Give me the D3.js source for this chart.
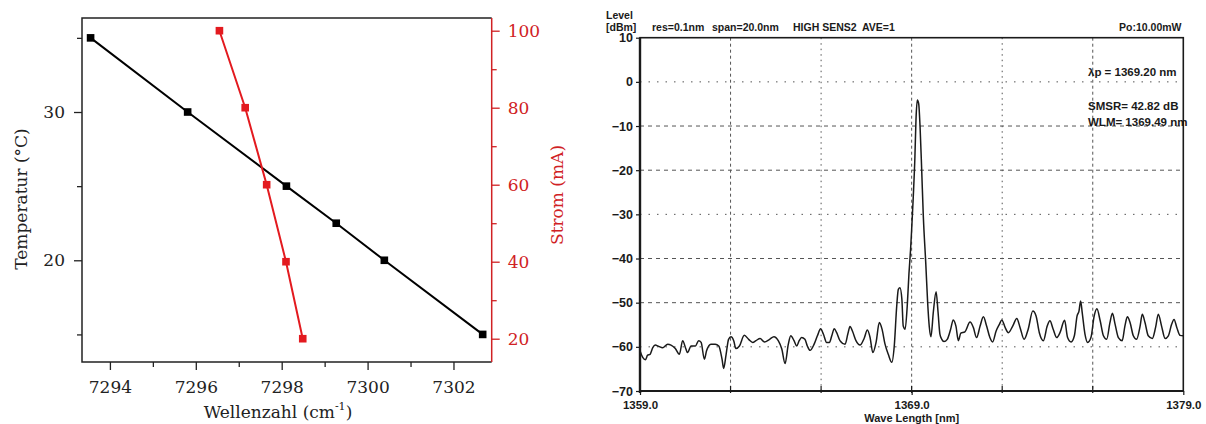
<!DOCTYPE html>
<html>
<head>
<meta charset="utf-8">
<script src="https://cdn.jsdelivr.net/npm/d3@7"></script>
<style>
  html, body { margin: 0; padding: 0; background: #ffffff; }
  svg { display: block; }
  text { white-space: pre; }
</style>
</head>
<body>
<script>
// ---------------- Left panel data ----------------
const wavenumberT = [7293.55, 7295.81, 7298.11, 7299.27, 7300.39, 7302.68];
const temperature = [35, 30, 25, 22.5, 20, 15];
const wavenumberI = [7296.55, 7297.15, 7297.65, 7298.10, 7298.49];
const current = [100, 80, 60, 40, 20];
const xTicksMajor = [7294, 7296, 7298, 7300, 7302];
const xTicksMinor = [7295, 7297, 7299, 7301];
const tTicksMajor = [20, 30];
const tTicksMinor = [15, 25, 35];
const iTicksMajor = [20, 40, 60, 80, 100];
const iTicksMinor = [30, 50, 70, 90];

// ---------------- Right panel data ----------------
const wavelength = [
  1359.00, 1359.10, 1359.20, 1359.28, 1359.37, 1359.47, 1359.56, 1359.69, 1359.83, 1360.02,
  1360.14, 1360.30, 1360.45, 1360.57, 1360.69, 1360.75, 1360.88, 1361.04, 1361.16, 1361.25,
  1361.37, 1361.45, 1361.61, 1361.77, 1361.90, 1362.02, 1362.08, 1362.17, 1362.26, 1362.35,
  1362.45, 1362.53, 1362.66, 1362.84, 1363.00, 1363.15, 1363.27, 1363.42, 1363.58, 1363.77,
  1363.93, 1364.09, 1364.22, 1364.34, 1364.46, 1364.55, 1364.67, 1364.77, 1364.86, 1364.95,
  1365.07, 1365.16, 1365.26, 1365.41, 1365.53, 1365.65, 1365.75, 1365.87, 1365.97, 1366.06,
  1366.15, 1366.24, 1366.36, 1366.55, 1366.65, 1366.73, 1366.83, 1366.95, 1367.10, 1367.25,
  1367.37, 1367.47, 1367.57, 1367.69, 1367.81, 1367.91, 1368.02, 1368.14, 1368.27, 1368.36,
  1368.45, 1368.51, 1368.57, 1368.64, 1368.69, 1368.76, 1368.84, 1368.90, 1368.96, 1369.00,
  1369.06, 1369.12, 1369.16, 1369.21, 1369.26, 1369.31, 1369.37, 1369.43, 1369.52, 1369.59,
  1369.65, 1369.71, 1369.80, 1369.90, 1369.97, 1370.04, 1370.11, 1370.19, 1370.31, 1370.44,
  1370.53, 1370.63, 1370.72, 1370.81, 1370.96, 1371.15, 1371.27, 1371.39, 1371.52, 1371.64,
  1371.76, 1371.88, 1371.98, 1372.11, 1372.23, 1372.32, 1372.44, 1372.56, 1372.72, 1372.87,
  1372.99, 1373.14, 1373.29, 1373.46, 1373.58, 1373.70, 1373.85, 1373.99, 1374.09, 1374.21,
  1374.34, 1374.46, 1374.63, 1374.74, 1374.87, 1374.99, 1375.09, 1375.16, 1375.22, 1375.28,
  1375.38, 1375.48, 1375.60, 1375.72, 1375.82, 1375.94, 1376.06, 1376.18, 1376.30, 1376.39,
  1376.49, 1376.61, 1376.75, 1376.85, 1376.94, 1377.04, 1377.16, 1377.28, 1377.41, 1377.49,
  1377.59, 1377.71, 1377.86, 1377.98, 1378.08, 1378.20, 1378.33, 1378.45, 1378.57, 1378.66,
  1378.76, 1378.88, 1379.00
];
const level = [
  -60.9, -62.4, -62.9, -61.9, -61.7, -60.2, -59.6, -59.9, -60.2, -59.4,
  -59.6, -60.4, -61.7, -58.6, -60.5, -61.3, -59.8, -59.8, -58.6, -59.0,
  -62.8, -60.9, -59.4, -59.4, -59.8, -62.8, -64.9, -61.7, -58.3, -57.7,
  -58.6, -60.4, -59.8, -57.4, -58.3, -59.0, -58.6, -58.1, -58.9, -58.3,
  -57.7, -58.6, -60.5, -63.8, -59.4, -57.5, -58.6, -59.8, -58.6, -57.9,
  -58.3, -59.8, -60.8, -59.4, -57.5, -55.9, -57.1, -59.0, -59.0, -57.5,
  -55.9, -56.8, -58.6, -59.4, -57.1, -55.4, -56.6, -58.6, -59.6, -58.1,
  -56.2, -57.9, -61.3, -59.0, -54.5, -56.0, -59.4, -61.7, -63.5, -59.8,
  -50.8, -47.0, -46.6, -49.2, -55.3, -56.0, -50.5, -43.5, -38.0, -33.5,
  -26.0, -17.0, -8.5, -4.1, -5.0, -10.2, -20.0, -30.5, -41.1, -50.1,
  -55.5, -57.7, -52.0, -47.5, -52.0, -57.1, -58.3, -58.8, -58.3, -55.9,
  -53.9, -55.3, -58.6, -56.9, -56.6, -54.4, -55.6, -57.9, -55.3, -53.2,
  -55.3, -57.9, -58.9, -56.4, -54.9, -53.9, -55.6, -56.8, -55.3, -53.6,
  -55.6, -58.3, -56.0, -51.9, -53.0, -56.8, -58.6, -55.3, -54.1, -56.0,
  -57.9, -56.8, -54.0, -57.9, -58.9, -57.5, -53.0, -51.9, -49.6, -52.3,
  -57.1, -59.0, -57.9, -53.0, -51.4, -54.1, -57.5, -58.3, -54.5, -52.4,
  -54.9, -57.9, -58.6, -55.3, -53.2, -54.5, -57.5, -58.3, -55.3, -52.6,
  -54.5, -57.5, -58.1, -55.6, -52.6, -55.3, -58.1, -57.5, -54.9, -53.8,
  -55.6, -57.4, -57.5
];
const levelTicks = [10, 0, -10, -20, -30, -40, -50, -60, -70];
const waveLabelTicks = [1359.0, 1369.0, 1379.0];
const waveDivisions = 6;
const headerTexts = ["res=0.1nm", "span=20.0nm", "HIGH SENS2  AVE=1", "Po:10.00mW"];
const annotations = ["\u03BBp = 1369.20 nm", "SMSR= 42.82 dB", "WLM= 1369.49 nm"];

// ---------------- Setup ----------------
const W = 1206, H = 424;
const svg = d3.select("body").append("svg").attr("width", W).attr("height", H);
const RED = "#e31a1f";
const RED_TXT = "#d02124";
const serif = "'DejaVu Serif', serif";
const sans = "'Liberation Sans', Arial, sans-serif";

// ================= LEFT PANEL =================
const L = { left: 82, right: 491.7, top: 18, bottom: 362 };
const xL = d3.scaleLinear().domain([7293.35, 7302.89]).range([L.left, L.right]);
const yT = d3.scaleLinear().domain([13.14, 36.34]).range([L.bottom, L.top]);
const yI = d3.scaleLinear().domain([13.95, 103.3]).range([L.bottom, L.top]);

const gL = svg.append("g");

function styleAxis(g, color, size) {
  g.select(".domain").remove();
  g.selectAll("line").attr("stroke", color).attr("stroke-width", 1.3);
  g.selectAll("text").attr("fill", color).attr("font-family", serif).attr("font-size", size);
}

// bottom axis
const axB = gL.append("g").attr("transform", `translate(0,${L.bottom})`)
  .call(d3.axisBottom(xL).tickValues(xTicksMajor).tickSize(8).tickPadding(11).tickFormat(d3.format("d")));
styleAxis(axB, "#222", 17);
const axBm = gL.append("g").attr("transform", `translate(0,${L.bottom})`)
  .call(d3.axisBottom(xL).tickValues(xTicksMinor).tickSize(5).tickFormat(""));
styleAxis(axBm, "#222", 17);

// left axis
const axLft = gL.append("g").attr("transform", `translate(${L.left},0)`)
  .call(d3.axisLeft(yT).tickValues(tTicksMajor).tickSize(8).tickPadding(9).tickFormat(d3.format("d")));
styleAxis(axLft, "#222", 17);
const axLftm = gL.append("g").attr("transform", `translate(${L.left},0)`)
  .call(d3.axisLeft(yT).tickValues(tTicksMinor).tickSize(5).tickFormat(""));
styleAxis(axLftm, "#222", 17);

// right axis (red)
const axR = gL.append("g").attr("transform", `translate(${L.right},0)`)
  .call(d3.axisRight(yI).tickValues(iTicksMajor).tickSize(8).tickPadding(8).tickFormat(d3.format("d")));
styleAxis(axR, RED_TXT, 17);
const axRm = gL.append("g").attr("transform", `translate(${L.right},0)`)
  .call(d3.axisRight(yI).tickValues(iTicksMinor).tickSize(5).tickFormat(""));
styleAxis(axRm, RED_TXT, 17);

// frame
gL.append("path")
  .attr("d", `M${L.right},${L.top}H${L.left}V${L.bottom}H${L.right}`)
  .attr("fill", "none").attr("stroke", "#222").attr("stroke-width", 1.5);
gL.append("line").attr("x1", L.right).attr("x2", L.right).attr("y1", L.top).attr("y2", L.bottom)
  .attr("stroke", RED_TXT).attr("stroke-width", 1.5);

// series: temperature (black)
const tData = wavenumberT.map((w, i) => ({ x: w, y: temperature[i] }));
gL.append("path").datum(tData)
  .attr("d", d3.line().x(d => xL(d.x)).y(d => yT(d.y)))
  .attr("fill", "none").attr("stroke", "#000").attr("stroke-width", 2);
gL.selectAll(".tsq").data(tData).enter().append("rect")
  .attr("x", d => xL(d.x) - 3.8).attr("y", d => yT(d.y) - 3.8)
  .attr("width", 7.6).attr("height", 7.6).attr("fill", "#000");

// series: current (red)
const iData = wavenumberI.map((w, i) => ({ x: w, y: current[i] }));
gL.append("path").datum(iData)
  .attr("d", d3.line().x(d => xL(d.x)).y(d => yI(d.y)))
  .attr("fill", "none").attr("stroke", RED).attr("stroke-width", 2);
gL.selectAll(".isq").data(iData).enter().append("rect")
  .attr("x", d => xL(d.x) - 3.8).attr("y", d => yI(d.y) - 3.8)
  .attr("width", 7.6).attr("height", 7.6).attr("fill", RED);

// axis titles
const xTitle = gL.append("text").attr("x", 278).attr("y", 418).attr("text-anchor", "middle")
  .attr("font-family", serif).attr("font-size", 17).attr("fill", "#222");
xTitle.append("tspan").text("Wellenzahl (cm");
xTitle.append("tspan").attr("font-size", 11).attr("dy", -8).text("-1");
xTitle.append("tspan").attr("dy", 8).text(")");

gL.append("text").attr("transform", "translate(27,199) rotate(-90)")
  .attr("text-anchor", "middle").attr("font-family", serif).attr("font-size", 17).attr("fill", "#222")
  .text("Temperatur (\u00B0C)");
gL.append("text").attr("transform", "translate(563,195) rotate(-90)")
  .attr("text-anchor", "middle").attr("font-family", serif).attr("font-size", 17).attr("fill", RED_TXT)
  .text("Strom (mA)");

// ================= RIGHT PANEL =================
const R = { left: 640, right: 1183.3, top: 37.7, bottom: 391 };
const xR = d3.scaleLinear().domain([1359, 1379]).range([R.left, R.right]);
const yR = d3.scaleLinear().domain([-70, 10]).range([R.bottom, R.top]);
const gR = svg.append("g");
const INK = "#1a1a1a";

// grid: horizontal
const hGrid = levelTicks.filter(v => v < 10 && v > -70);
gR.selectAll(".hg").data(hGrid).enter().append("line")
  .attr("x1", R.left).attr("x2", R.right)
  .attr("y1", d => yR(d)).attr("y2", d => yR(d))
  .attr("stroke", "#555").attr("stroke-width", 1)
  .attr("stroke-dasharray", d => (d % 30 === 0) ? "1.5,7" : "4,4");
// grid: vertical
const step = (xR.domain()[1] - xR.domain()[0]) / waveDivisions;
const vGrid = d3.range(1, waveDivisions).map(i => xR.domain()[0] + i * step);
gR.selectAll(".vg").data(vGrid).enter().append("line")
  .attr("y1", R.top).attr("y2", R.bottom)
  .attr("x1", d => xR(d)).attr("x2", d => xR(d))
  .attr("stroke", "#555").attr("stroke-width", 1)
  .attr("stroke-dasharray", (d, i) => (i % 2 === 0) ? "3,3" : "1.5,4");

// spectrum trace
const sData = wavelength.map((w, i) => ({ x: w, y: level[i] }));
gR.append("path").datum(sData)
  .attr("d", d3.line().x(d => xR(d.x)).y(d => yR(d.y)).curve(d3.curveMonotoneX))
  .attr("fill", "none").attr("stroke", INK).attr("stroke-width", 1.5).attr("stroke-linejoin", "round");

// frame
gR.append("rect").attr("x", R.left).attr("y", R.top)
  .attr("width", R.right - R.left).attr("height", R.bottom - R.top)
  .attr("fill", "none").attr("stroke", INK).attr("stroke-width", 1.6);
gR.append("line").attr("x1", R.left).attr("x2", R.left).attr("y1", R.top).attr("y2", R.bottom + 2)
  .attr("stroke", INK).attr("stroke-width", 2.4);
gR.append("line").attr("x1", R.left).attr("x2", R.right).attr("y1", R.bottom).attr("y2", R.bottom)
  .attr("stroke", INK).attr("stroke-width", 2.2);

// left axis
const axRL = gR.append("g").attr("transform", `translate(${R.left},0)`)
  .call(d3.axisLeft(yR).tickValues(levelTicks).tickSize(4).tickPadding(3).tickFormat(d3.format("d")));
axRL.select(".domain").remove();
axRL.selectAll("line").attr("stroke", INK).attr("stroke-width", 1.2);
axRL.selectAll("text").attr("font-family", sans).attr("font-weight", "bold")
  .attr("font-size", 12.5).attr("fill", INK);

// bottom ticks
const axRB = gR.append("g").attr("transform", `translate(0,${R.bottom})`)
  .call(d3.axisBottom(xR).tickValues(waveLabelTicks).tickSize(4).tickPadding(6).tickFormat(d3.format(".1f")));
axRB.select(".domain").remove();
axRB.selectAll("line").attr("stroke", INK).attr("stroke-width", 1.2);
axRB.selectAll("text").attr("font-family", sans).attr("font-weight", "bold")
  .attr("font-size", 11.5).attr("fill", INK);
gR.selectAll(".vt").data(vGrid).enter().append("line")
  .attr("x1", d => xR(d)).attr("x2", d => xR(d))
  .attr("y1", R.bottom - 5).attr("y2", R.bottom + 2)
  .attr("stroke", INK).attr("stroke-width", 1.2);

// x title
gR.append("text").attr("x", xR(1369)).attr("y", 422).attr("text-anchor", "middle")
  .attr("font-family", sans).attr("font-weight", "bold").attr("font-size", 11).attr("fill", INK)
  .text("Wave Length [nm]");

// y unit header
gR.append("text").attr("x", 606).attr("y", 19).attr("font-family", sans).attr("font-weight", "bold")
  .attr("font-size", 10.5).attr("fill", INK).text("Level");
gR.append("text").attr("x", 606).attr("y", 30.5).attr("font-family", sans).attr("font-weight", "bold")
  .attr("font-size", 10.5).attr("fill", INK).text("[dBm]");

// header line
const headerX = [652, 712, 793, 1181.5];
headerTexts.forEach((t, i) => {
  gR.append("text").attr("x", headerX[i]).attr("y", 31)
    .attr("text-anchor", i === headerTexts.length - 1 ? "end" : "start")
    .attr("font-family", sans).attr("font-weight", "bold").attr("font-size", 10.5)
    .attr("fill", INK)
    .text(t);
});

// annotations
const annY = [76, 110, 126];
annotations.forEach((t, i) => {
  gR.append("text").attr("x", 1088).attr("y", annY[i])
    .attr("font-family", sans).attr("font-weight", "bold").attr("font-size", 11.5).attr("fill", INK)
    .text(t);
});
</script>
</body>
</html>
